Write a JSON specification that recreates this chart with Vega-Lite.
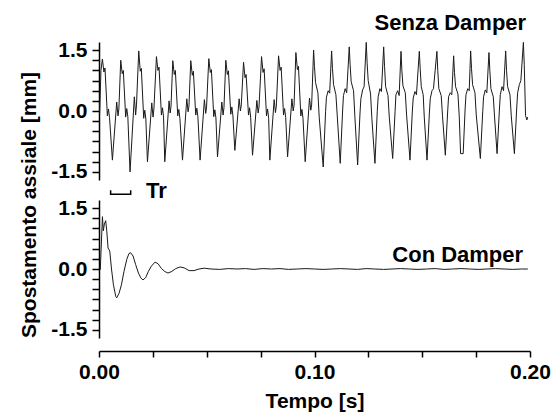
{
  "$schema": "https://vega.github.io/schema/vega-lite/v6.json",
  "padding": {"left": 18, "top": 11, "right": 5, "bottom": 5},
  "background": "white",
  "bounds": "flush",
  "data": {"values": [
    {"p":"a","t":0.0003,"v":-0.05},{"p":"a","t":0.0009,"v":1.0},{"p":"a","t":0.00158,"v":1.28},{"p":"a","t":0.00228,"v":0.96},{"p":"a","t":0.00278,"v":1.06},{"p":"a","t":0.00388,"v":-0.12},{"p":"a","t":0.00438,"v":0.05},{"p":"a","t":0.00488,"v":-0.16},{"p":"a","t":0.00622,"v":-1.21},{"p":"a","t":0.00822,"v":0.22},{"p":"a","t":0.00882,"v":-0.12},{"p":"a","t":0.00922,"v":0.05},
    {"p":"a","t":0.01008,"v":1.25},{"p":"a","t":0.01078,"v":0.92},{"p":"a","t":0.01128,"v":1.0},{"p":"a","t":0.01238,"v":-0.15},{"p":"a","t":0.01288,"v":0.06},{"p":"a","t":0.01338,"v":-0.14},{"p":"a","t":0.0144,"v":-1.5},{"p":"a","t":0.0164,"v":0.35},{"p":"a","t":0.017,"v":-0.1},{"p":"a","t":0.0174,"v":0.15},
    {"p":"a","t":0.01844,"v":1.48},{"p":"a","t":0.01914,"v":0.98},{"p":"a","t":0.01964,"v":1.05},{"p":"a","t":0.02074,"v":-0.18},{"p":"a","t":0.02124,"v":0.02},{"p":"a","t":0.02174,"v":-0.2},{"p":"a","t":0.02248,"v":-1.25},{"p":"a","t":0.02448,"v":0.2},{"p":"a","t":0.02508,"v":-0.15},{"p":"a","t":0.02548,"v":0.05},
    {"p":"a","t":0.02666,"v":1.34},{"p":"a","t":0.02736,"v":1.0},{"p":"a","t":0.02786,"v":1.08},{"p":"a","t":0.02896,"v":-0.1},{"p":"a","t":0.02946,"v":0.08},{"p":"a","t":0.02996,"v":-0.15},{"p":"a","t":0.03052,"v":-1.25},{"p":"a","t":0.03252,"v":0.25},{"p":"a","t":0.03302,"v":-0.05},{"p":"a","t":0.03342,"v":0.12},
    {"p":"a","t":0.03423,"v":1.24},{"p":"a","t":0.03493,"v":0.9},{"p":"a","t":0.03543,"v":1.0},{"p":"a","t":0.03653,"v":-0.12},{"p":"a","t":0.03703,"v":0.04},{"p":"a","t":0.03753,"v":-0.18},{"p":"a","t":0.03874,"v":-1.21},{"p":"a","t":0.04074,"v":0.3},{"p":"a","t":0.04134,"v":-0.02},{"p":"a","t":0.04174,"v":0.12},
    {"p":"a","t":0.04259,"v":1.24},{"p":"a","t":0.04329,"v":0.88},{"p":"a","t":0.04379,"v":0.98},{"p":"a","t":0.04489,"v":-0.1},{"p":"a","t":0.04539,"v":0.07},{"p":"a","t":0.04589,"v":-0.14},{"p":"a","t":0.04691,"v":-1.21},{"p":"a","t":0.04891,"v":0.28},{"p":"a","t":0.04951,"v":-0.06},{"p":"a","t":0.04991,"v":0.1},
    {"p":"a","t":0.05095,"v":1.29},{"p":"a","t":0.05165,"v":0.95},{"p":"a","t":0.05215,"v":1.02},{"p":"a","t":0.05325,"v":-0.14},{"p":"a","t":0.05375,"v":0.03},{"p":"a","t":0.05425,"v":-0.17},{"p":"a","t":0.05499,"v":-1.13},{"p":"a","t":0.05699,"v":0.22},{"p":"a","t":0.05759,"v":-0.1},{"p":"a","t":0.05799,"v":0.08},
    {"p":"a","t":0.05885,"v":1.25},{"p":"a","t":0.05955,"v":0.9},{"p":"a","t":0.06005,"v":0.99},{"p":"a","t":0.06115,"v":-0.08},{"p":"a","t":0.06165,"v":0.1},{"p":"a","t":0.06215,"v":-0.12},{"p":"a","t":0.06303,"v":-0.97},{"p":"a","t":0.06503,"v":0.3},{"p":"a","t":0.06563,"v":0.0},{"p":"a","t":0.06603,"v":0.15},
    {"p":"a","t":0.06707,"v":1.2},{"p":"a","t":0.06777,"v":0.82},{"p":"a","t":0.06827,"v":0.9},{"p":"a","t":0.06937,"v":-0.1},{"p":"a","t":0.06987,"v":0.08},{"p":"a","t":0.07037,"v":-0.15},{"p":"a","t":0.07125,"v":-1.09},{"p":"a","t":0.07325,"v":0.26},{"p":"a","t":0.07385,"v":-0.05},{"p":"a","t":0.07425,"v":0.1},
    {"p":"a","t":0.07543,"v":1.34},{"p":"a","t":0.07613,"v":0.95},{"p":"a","t":0.07663,"v":1.04},{"p":"a","t":0.07773,"v":-0.12},{"p":"a","t":0.07823,"v":0.05},{"p":"a","t":0.07873,"v":-0.18},{"p":"a","t":0.07928,"v":-1.21},{"p":"a","t":0.08128,"v":0.28},{"p":"a","t":0.08188,"v":-0.04},{"p":"a","t":0.08228,"v":0.12},
    {"p":"a","t":0.08333,"v":1.36},{"p":"a","t":0.08403,"v":1.0},{"p":"a","t":0.08453,"v":1.08},{"p":"a","t":0.08563,"v":-0.1},{"p":"a","t":0.08613,"v":0.06},{"p":"a","t":0.08663,"v":-0.16},{"p":"a","t":0.08751,"v":-1.13},{"p":"a","t":0.08951,"v":0.3},{"p":"a","t":0.09011,"v":0.0},{"p":"a","t":0.09051,"v":0.14},
    {"p":"a","t":0.09136,"v":1.44},{"p":"a","t":0.09206,"v":1.02},{"p":"a","t":0.09256,"v":1.1},{"p":"a","t":0.09366,"v":-0.12},{"p":"a","t":0.09416,"v":0.04},{"p":"a","t":0.09466,"v":-0.18},{"p":"a","t":0.09568,"v":-1.25},{"p":"a","t":0.09768,"v":0.32},{"p":"a","t":0.09828,"v":0.02},{"p":"a","t":0.09868,"v":0.15},
    {"p":"a","t":0.09958,"v":1.5},{"p":"a","t":0.09998,"v":1.1},{"p":"a","t":0.10048,"v":0.7},{"p":"a","t":0.10158,"v":0.45},{"p":"a","t":0.10218,"v":-0.15},{"p":"a","t":0.10404,"v":-1.38},{"p":"a","t":0.10514,"v":-0.02},{"p":"a","t":0.10554,"v":0.34},{"p":"a","t":0.10634,"v":0.5},{"p":"a","t":0.10704,"v":0.44},
    {"p":"a","t":0.10794,"v":1.48},{"p":"a","t":0.10834,"v":1.05},{"p":"a","t":0.10884,"v":0.65},{"p":"a","t":0.10994,"v":0.4},{"p":"a","t":0.11054,"v":-0.1},{"p":"a","t":0.11194,"v":-1.29},{"p":"a","t":0.11304,"v":0.0},{"p":"a","t":0.11344,"v":0.38},{"p":"a","t":0.11424,"v":0.55},{"p":"a","t":0.11494,"v":0.45},
    {"p":"a","t":0.11612,"v":1.58},{"p":"a","t":0.11652,"v":1.15},{"p":"a","t":0.11702,"v":0.72},{"p":"a","t":0.11812,"v":0.5},{"p":"a","t":0.11872,"v":-0.12},{"p":"a","t":0.12002,"v":-1.33},{"p":"a","t":0.12112,"v":-0.05},{"p":"a","t":0.12152,"v":0.3},{"p":"a","t":0.12232,"v":0.52},{"p":"a","t":0.12302,"v":0.6},
    {"p":"a","t":0.12401,"v":1.69},{"p":"a","t":0.12441,"v":1.2},{"p":"a","t":0.12491,"v":0.75},{"p":"a","t":0.12601,"v":0.42},{"p":"a","t":0.12661,"v":-0.18},{"p":"a","t":0.12805,"v":-1.29},{"p":"a","t":0.12915,"v":0.02},{"p":"a","t":0.12955,"v":0.35},{"p":"a","t":0.13035,"v":0.55},{"p":"a","t":0.13105,"v":0.48},
    {"p":"a","t":0.1321,"v":1.58},{"p":"a","t":0.1325,"v":1.1},{"p":"a","t":0.133,"v":0.6},{"p":"a","t":0.1341,"v":0.38},{"p":"a","t":0.1347,"v":-0.15},{"p":"a","t":0.13628,"v":-1.17},{"p":"a","t":0.13738,"v":-0.02},{"p":"a","t":0.13778,"v":0.4},{"p":"a","t":0.13858,"v":0.5},{"p":"a","t":0.13928,"v":0.38},
    {"p":"a","t":0.14014,"v":1.47},{"p":"a","t":0.14054,"v":1.0},{"p":"a","t":0.14104,"v":0.62},{"p":"a","t":0.14214,"v":0.45},{"p":"a","t":0.14274,"v":-0.1},{"p":"a","t":0.14431,"v":-1.21},{"p":"a","t":0.14541,"v":0.0},{"p":"a","t":0.14581,"v":0.32},{"p":"a","t":0.14661,"v":0.48},{"p":"a","t":0.14731,"v":0.4},
    {"p":"a","t":0.14864,"v":1.47},{"p":"a","t":0.14904,"v":1.05},{"p":"a","t":0.14954,"v":0.6},{"p":"a","t":0.15044,"v":0.4},{"p":"a","t":0.15094,"v":-0.15},{"p":"a","t":0.15221,"v":-1.21},{"p":"a","t":0.15331,"v":-0.05},{"p":"a","t":0.15371,"v":0.3},{"p":"a","t":0.15451,"v":0.5},{"p":"a","t":0.15521,"v":0.55},
    {"p":"a","t":0.1568,"v":1.47},{"p":"a","t":0.1572,"v":1.0},{"p":"a","t":0.1577,"v":0.55},{"p":"a","t":0.1588,"v":0.38},{"p":"a","t":0.1594,"v":-0.12},{"p":"a","t":0.16071,"v":-1.09},{"p":"a","t":0.16181,"v":0.0},{"p":"a","t":0.16221,"v":0.35},{"p":"a","t":0.16301,"v":0.45},{"p":"a","t":0.16371,"v":0.4},
    {"p":"a","t":0.16456,"v":1.36},{"p":"a","t":0.16496,"v":0.95},{"p":"a","t":0.16546,"v":0.6},{"p":"a","t":0.16656,"v":0.42},{"p":"a","t":0.16716,"v":-0.12},{"p":"a","t":0.16779,"v":-1.05},{"p":"a","t":0.16899,"v":-1.05},{"p":"a","t":0.16989,"v":0.05},{"p":"a","t":0.17029,"v":0.4},{"p":"a","t":0.17109,"v":0.55},{"p":"a","t":0.17179,"v":0.5},
    {"p":"a","t":0.17246,"v":1.48},{"p":"a","t":0.17286,"v":1.05},{"p":"a","t":0.17336,"v":0.65},{"p":"a","t":0.17446,"v":0.45},{"p":"a","t":0.17506,"v":-0.1},{"p":"a","t":0.17696,"v":-1.17},{"p":"a","t":0.17806,"v":-0.02},{"p":"a","t":0.17846,"v":0.35},{"p":"a","t":0.17926,"v":0.52},{"p":"a","t":0.17996,"v":0.45},
    {"p":"a","t":0.18096,"v":1.44},{"p":"a","t":0.18136,"v":1.0},{"p":"a","t":0.18186,"v":0.55},{"p":"a","t":0.18296,"v":0.35},{"p":"a","t":0.18356,"v":-0.15},{"p":"a","t":0.18472,"v":-1.05},{"p":"a","t":0.18582,"v":0.05},{"p":"a","t":0.18622,"v":0.4},{"p":"a","t":0.18702,"v":0.6},{"p":"a","t":0.18772,"v":0.5},
    {"p":"a","t":0.18871,"v":1.48},{"p":"a","t":0.18911,"v":1.0},{"p":"a","t":0.18961,"v":0.6},{"p":"a","t":0.19071,"v":0.4},{"p":"a","t":0.19131,"v":-0.12},{"p":"a","t":0.19276,"v":-1.05},{"p":"a","t":0.19386,"v":0.1},{"p":"a","t":0.19426,"v":0.45},{"p":"a","t":0.19506,"v":0.65},{"p":"a","t":0.19576,"v":0.75},
    {"p":"a","t":0.19693,"v":1.69},{"p":"a","t":0.19733,"v":1.15},{"p":"a","t":0.19793,"v":-0.11},{"p":"a","t":0.19853,"v":-0.22},{"p":"a","t":0.19893,"v":-0.15},
    {"p":"b","t":0.0006,"v":-0.02},{"p":"b","t":0.0016,"v":1.29},{"p":"b","t":0.002,"v":0.94},{"p":"b","t":0.0025,"v":1.11},{"p":"b","t":0.0031,"v":1.19},{"p":"b","t":0.0036,"v":0.94},{"p":"b","t":0.0042,"v":0.52},{"p":"b","t":0.005,"v":0.44},{"p":"b","t":0.0058,"v":0.0},{"p":"b","t":0.0067,"v":-0.39},{"p":"b","t":0.0078,"v":-0.68},{"p":"b","t":0.0082,"v":-0.71},{"p":"b","t":0.0093,"v":-0.6},{"p":"b","t":0.0104,"v":-0.39},{"p":"b","t":0.0116,"v":-0.06},{"p":"b","t":0.0129,"v":0.24},{"p":"b","t":0.0139,"v":0.38},{"p":"b","t":0.0147,"v":0.4},{"p":"b","t":0.0158,"v":0.32},{"p":"b","t":0.017,"v":0.11},{"p":"b","t":0.0183,"v":-0.1},{"p":"b","t":0.0194,"v":-0.22},{"p":"b","t":0.0204,"v":-0.27},{"p":"b","t":0.0217,"v":-0.21},{"p":"b","t":0.0229,"v":-0.06},{"p":"b","t":0.0243,"v":0.07},{"p":"b","t":0.026,"v":0.17},{"p":"b","t":0.0274,"v":0.13},{"p":"b","t":0.029,"v":0.01},{"p":"b","t":0.0305,"v":-0.06},{"p":"b","t":0.032,"v":-0.1},{"p":"b","t":0.0338,"v":-0.06},{"p":"b","t":0.0356,"v":0.01},{"p":"b","t":0.0376,"v":0.05},{"p":"b","t":0.0395,"v":0.03},{"p":"b","t":0.0418,"v":-0.04},{"p":"b","t":0.0441,"v":-0.04},{"p":"b","t":0.0464,"v":0.0},{"p":"b","t":0.0488,"v":0.02},
    {"p":"b","t":0.052,"v":0.0},{"p":"b","t":0.056,"v":-0.01},{"p":"b","t":0.06,"v":0.01},{"p":"b","t":0.064,"v":0.0},{"p":"b","t":0.068,"v":0.01},{"p":"b","t":0.072,"v":-0.01},{"p":"b","t":0.076,"v":0.01},{"p":"b","t":0.08,"v":0.0},{"p":"b","t":0.084,"v":0.01},{"p":"b","t":0.088,"v":-0.01},{"p":"b","t":0.092,"v":0.0},{"p":"b","t":0.096,"v":0.01},{"p":"b","t":0.1,"v":0.0},{"p":"b","t":0.104,"v":-0.01},{"p":"b","t":0.108,"v":0.0},{"p":"b","t":0.112,"v":0.01},{"p":"b","t":0.116,"v":0.0},{"p":"b","t":0.12,"v":-0.01},{"p":"b","t":0.124,"v":0.01},{"p":"b","t":0.128,"v":0.0},{"p":"b","t":0.132,"v":-0.01},{"p":"b","t":0.136,"v":0.0},{"p":"b","t":0.14,"v":0.01},{"p":"b","t":0.144,"v":0.0},{"p":"b","t":0.148,"v":-0.01},{"p":"b","t":0.152,"v":0.0},{"p":"b","t":0.156,"v":0.01},{"p":"b","t":0.16,"v":-0.01},{"p":"b","t":0.164,"v":0.0},{"p":"b","t":0.168,"v":0.01},{"p":"b","t":0.172,"v":0.0},{"p":"b","t":0.176,"v":-0.01},{"p":"b","t":0.18,"v":0.0},{"p":"b","t":0.184,"v":0.01},{"p":"b","t":0.188,"v":0.0},{"p":"b","t":0.192,"v":-0.01},{"p":"b","t":0.196,"v":0.0},{"p":"b","t":0.199,"v":0.0},
    {"p":"a","t":0.1982,"v":2.17,"label":"Senza Damper"},
    {"p":"b","t":0.1968,"v":0.355,"label":"Con Damper"},
    {"p":"a","t":0.0315,"v":-1.96,"label":"Tr"},
    {"p":"a","t":0.0054,"v":-1.95,"br":1},{"p":"a","t":0.0054,"v":-2.05,"br":2},{"p":"a","t":0.0147,"v":-2.05,"br":3},{"p":"a","t":0.0147,"v":-1.95,"br":4}
  ]},
  "facet": {
    "row": {
      "field": "p", "type": "nominal", "title": "Spostamento assiale [mm]",
      "header": {"labels": false, "titleFont": "Liberation Sans", "titleFontSize": 21, "titleFontWeight": "bold", "titleColor": "black", "titlePadding": 0, "titleAnchor": "start"}
    }
  },
  "spacing": {"row": 20},
  "spec": {
    "width": 431,
    "height": 138,
    "encoding": {
      "x": {
        "field": "t", "type": "quantitative",
        "scale": {"domain": [0, 0.2], "nice": false, "zero": false},
        "axis": {
          "title": "Tempo [s]",
          "values": [0, 0.025, 0.05, 0.075, 0.1, 0.125, 0.15, 0.175, 0.2],
          "labelExpr": "datum.value == 0 || datum.value == 0.1 || datum.value == 0.2 ? format(datum.value, '.2f') : ''",
          "labelFlush": false,
          "offset": 13, "tickSize": 6, "labelPadding": 4, "titlePadding": 8
        }
      },
      "y": {
        "field": "v", "type": "quantitative",
        "scale": {"domain": [-1.7, 1.7], "nice": false, "zero": false},
        "axis": {
          "title": null,
          "values": [-1.5, -1.25, -1, -0.75, -0.5, -0.25, 0, 0.25, 0.5, 0.75, 1, 1.25, 1.5],
          "labelExpr": "datum.value == 0 ? '0.0' : datum.value == 1.5 ? '1.5' : datum.value == -1.5 ? '-1.5' : ''",
          "labelFlush": false,
          "tickSize": 7, "labelPadding": 5
        }
      }
    },
    "layer": [
      {
        "transform": [{"filter": "!isValid(datum.label) && !isValid(datum.br)"}],
        "mark": {"type": "line", "stroke": "#1a1a1a", "strokeWidth": 1}
      },
      {
        "transform": [{"filter": "isValid(datum.br)"}],
        "mark": {"type": "line", "stroke": "black", "strokeWidth": 1.5},
        "encoding": {"order": {"field": "br", "type": "quantitative"}}
      },
      {
        "transform": [{"filter": "isValid(datum.label)"}],
        "mark": {"type": "text", "align": "right", "baseline": "middle", "font": "Liberation Sans", "fontSize": 22, "fontWeight": "bold", "color": "black"},
        "encoding": {"text": {"field": "label", "type": "nominal"}}
      }
    ]
  },
  "config": {
    "view": {"stroke": null},
    "axis": {
      "grid": false,
      "domainColor": "black", "domainWidth": 1.5,
      "tickColor": "black", "tickWidth": 1.5,
      "labelFont": "Liberation Sans", "labelFontSize": 21, "labelFontWeight": "bold", "labelColor": "black",
      "titleFont": "Liberation Sans", "titleFontSize": 21, "titleFontWeight": "bold", "titleColor": "black"
    }
  }
}
